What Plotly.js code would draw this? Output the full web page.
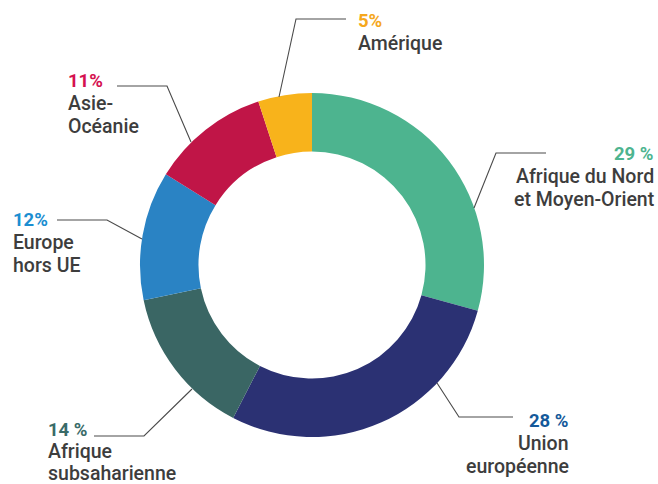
<!DOCTYPE html>
<html>
<head>
<meta charset="utf-8">
<script src="https://cdn.plot.ly/plotly-3.0.1.min.js"></script>
<style>
  html, body { margin: 0; padding: 0; background: #ffffff; }
  #chart { width: 658px; height: 484px; }
</style>
</head>
<body>
<div id="chart"></div>
<script>
// ---- data ----
const categories = ["Afrique du Nord et Moyen-Orient", "Union européenne", "Afrique subsaharienne", "Europe hors UE", "Asie-Océanie", "Amérique"];
const values = [29, 28, 14, 12, 11, 5];
const percentLabels = ["29 %", "28 %", "14 %", "12%", "11%", "5%"];
const nameLines = [
  ["Afrique du Nord", "et Moyen-Orient"],
  ["Union", "européenne"],
  ["Afrique", "subsaharienne"],
  ["Europe", "hors UE"],
  ["Asie-", "Océanie"],
  ["Amérique"]
];

// ---- styling / layout ----
const W = 658, H = 484;
const sliceColors = ["#4db48f", "#2b3173", "#3a6664", "#2a83c4", "#c01547", "#f8b31b"];
const pctColors   = ["#4db48f", "#14599a", "#3a6b68", "#1b8ed1", "#d5114f", "#f5a71c"];
const textColor = "#3d3d3d";
const cx = 312, cy = 265, R = 172;

// label placement (pixels): text x, anchor, first line y, line step ; leader line points
const labelPos = [
  {x: 655, anchor: "right", y: 154, step: 22.5, line: [[474,208],[496,153],[546,153]]},
  {x: 570, anchor: "right", y: 421, step: 22.5, line: [[437,383],[459,417],[513,417]]},
  {x: 47,  anchor: "left",  y: 430, step: 21.5, line: [[192,389],[144,436],[94,436]]},
  {x: 12,  anchor: "left",  y: 220, step: 22.5, line: [[142,239],[107,220],[57,220]]},
  {x: 67,  anchor: "left",  y: 81,  step: 22.5, line: [[191,142],[167,86],[117,86]]},
  {x: 357, anchor: "left",  y: 21,  step: 22.5, line: [[279,97],[296,19],[346,19]]}
];

const px = x => x / W;
const py = y => 1 - y / H;

const annotations = [];
const shapes = [];
labelPos.forEach((p, i) => {
  annotations.push({
    xref: "paper", yref: "paper", x: px(p.x), y: py(p.y),
    xanchor: p.anchor, yanchor: "middle", showarrow: false, borderpad: 0,
    text: percentLabels[i],
    font: {family: "Roboto, Arial, sans-serif", size: 18.5, color: pctColors[i], weight: 700}
  });
  nameLines[i].forEach((ln, j) => {
    annotations.push({
      xref: "paper", yref: "paper", x: px(p.x), y: py(p.y + p.step * (j + 1)),
      xanchor: p.anchor, yanchor: "middle", showarrow: false, borderpad: 0,
      text: ln,
      font: {family: "Roboto, Arial, sans-serif", size: 19.5, color: textColor, weight: 500}
    });
  });
  const pts = p.line;
  let path = "M" + px(pts[0][0]) + "," + py(pts[0][1]);
  for (let k = 1; k < pts.length; k++) path += " L" + px(pts[k][0]) + "," + py(pts[k][1]);
  shapes.push({type: "path", xref: "paper", yref: "paper", path: path,
    line: {color: "#4a4a4a", width: 1.1}});
});

const trace = {
  type: "pie",
  labels: categories,
  values: values,
  sort: false,
  direction: "clockwise",
  rotation: 0,
  hole: 0.66,
  textinfo: "none",
  hoverinfo: "label+percent",
  marker: {colors: sliceColors, line: {width: 0}},
  domain: {x: [px(cx - R), px(cx + R)], y: [py(cy + R), py(cy - R)]},
  showlegend: false
};

const layout = {
  width: W, height: H,
  margin: {l: 0, r: 0, t: 0, b: 0},
  paper_bgcolor: "#ffffff",
  plot_bgcolor: "#ffffff",
  showlegend: false,
  annotations: annotations,
  shapes: shapes
};

Plotly.newPlot("chart", [trace], layout, {displayModeBar: false, staticPlot: true});
</script>
</body>
</html>
